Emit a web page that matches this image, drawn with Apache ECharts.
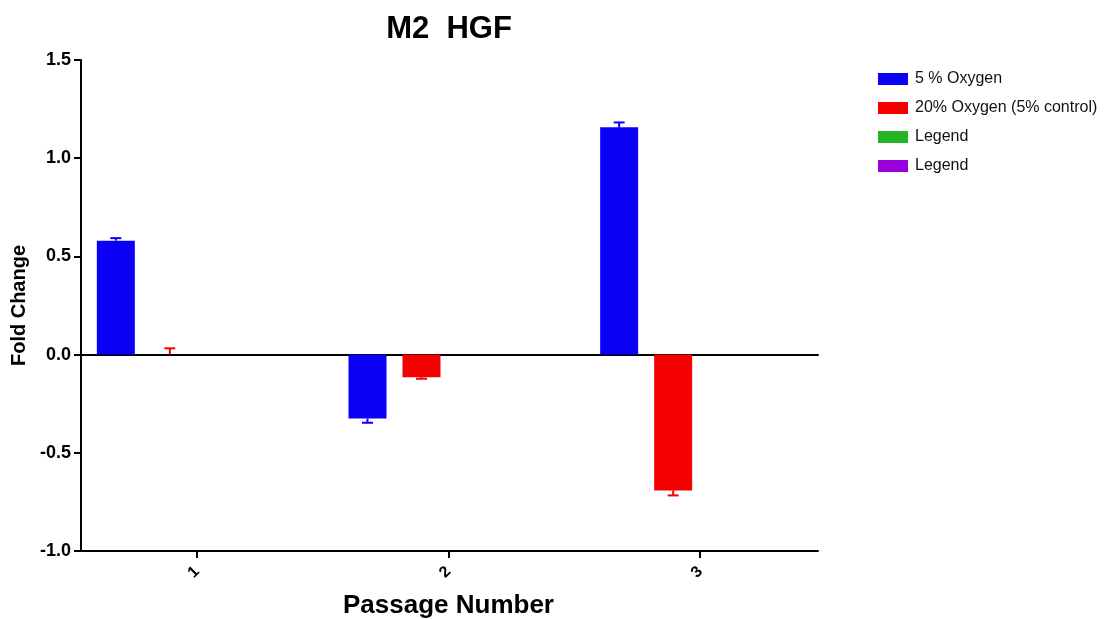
<!DOCTYPE html>
<html>
<head>
<meta charset="utf-8">
<script src="https://cdn.jsdelivr.net/npm/echarts@6/dist/echarts.min.js"></script>
<style>
html,body{margin:0;padding:0;background:#fff;}
#chart{width:1108px;height:619px;}
</style>
</head>
<body>
<div id="chart"></div>
<script>
const categories = ['1', '2', '3'];
const seriesNames = ['5 % Oxygen', '20% Oxygen (5% control)', 'Legend', 'Legend'];
const oxygen5 = [0.58, -0.325, 1.157];
const oxygen5Err = [0.013, 0.022, 0.025];
const oxygen20 = [0, -0.115, -0.692];
const oxygen20Err = [0.032, 0.008, 0.025];
const emptyA = [null, null, null];
const emptyB = [null, null, null];
const yTicks = { min: -1.0, max: 1.5, interval: 0.5 };

const colors = ['#0a00f6', '#f40000', '#25b425', '#9a00dc'];
const FONT = '"Liberation Sans", Arial, Helvetica, sans-serif';
const BAR_W = 38, BAR_GAP_PX = 16;

function errData(vals, errs) {
  return vals.map((v, i) => [i, v, errs[i]]);
}
function errSeries(slot, vals, errs, color) {
  return {
    type: 'custom', xAxisIndex: 0, yAxisIndex: 0, z: 5, silent: true,
    data: errData(vals, errs),
    encode: { x: 0, y: 1 },
    renderItem: function (params, api) {
      const ci = api.value(0), v = api.value(1), e = api.value(2);
      const off = (slot - 1.5) * (BAR_W + BAR_GAP_PX);
      const sign = v >= 0 ? 1 : -1;
      const p0 = api.coord([ci, v]);
      const p1 = api.coord([ci, v + sign * e]);
      const x = p0[0] + off;
      const cap = 5.5;
      const st = { stroke: color, lineWidth: 2 };
      return { type: 'group', children: [
        { type: 'line', shape: { x1: x, y1: p0[1], x2: x, y2: p1[1] }, style: st },
        { type: 'line', shape: { x1: x - cap, y1: p1[1], x2: x + cap, y2: p1[1] }, style: st }
      ]};
    }
  };
}

const chart = echarts.init(document.getElementById('chart'));
const option = {
  animation: false,
  backgroundColor: '#ffffff',
  color: colors,
  title: {
    text: 'M2  HGF', left: 444, top: 9, textAlign: 'center',
    textStyle: { fontFamily: FONT, fontWeight: 'bold', fontSize: 31, color: '#000' }
  },
  legend: {
    orient: 'vertical', left: 873, top: 66,
    itemWidth: 30, itemHeight: 12, itemGap: 13, icon: 'rect',
    textStyle: { fontFamily: FONT, fontSize: 16, color: '#111', padding: [0, 0, 0, 2] },
    data: [
      { name: seriesNames[0] }, { name: seriesNames[1] },
      { name: 'LegendA' }, { name: 'LegendB' }
    ],
    formatter: function (n) { return n === 'LegendA' || n === 'LegendB' ? 'Legend' : n; },
    selectedMode: false
  },
  grid: [
    { left: 71, right: 282, top: 60, bottom: 68, containLabel: false, outerBoundsMode: 'none' },
    { left: 81, right: 290, top: 60, bottom: 68, containLabel: false, outerBoundsMode: 'none' }
  ],
  xAxis: [
    {
      type: 'category', gridIndex: 0, data: categories, position: 'bottom',
      axisLine: { show: false, onZero: false },
      axisTick: { show: true, alignWithLabel: true, length: 7, lineStyle: { color: '#000', width: 2 } },
      axisLabel: { rotate: 45, margin: 18, fontFamily: FONT, fontSize: 16, fontWeight: 'bold', color: '#000' },
      name: 'Passage Number', nameLocation: 'middle', nameGap: 42,
      nameTextStyle: { fontFamily: FONT, fontWeight: 'bold', fontSize: 26, color: '#000' }
    },
    {
      type: 'value', gridIndex: 1, min: 0, max: 1, position: 'bottom',
      axisLine: { show: true, onZero: false, lineStyle: { color: '#000', width: 2 } },
      axisTick: { show: false }, axisLabel: { show: false }, splitLine: { show: false }
    },
    {
      type: 'value', gridIndex: 1, min: 0, max: 1, position: 'top',
      axisLine: { show: true, onZero: true, onZeroAxisIndex: 1, lineStyle: { color: '#000', width: 2 } },
      axisTick: { show: false }, axisLabel: { show: false }, splitLine: { show: false }
    }
  ],
  yAxis: [
    {
      type: 'value', gridIndex: 0, min: yTicks.min, max: yTicks.max, interval: yTicks.interval,
      show: false
    },
    {
      type: 'value', gridIndex: 1, min: yTicks.min, max: yTicks.max, interval: yTicks.interval,
      axisLine: { show: true, onZero: false, lineStyle: { color: '#000', width: 2 } },
      axisTick: { show: true, length: 7, lineStyle: { color: '#000', width: 2 } },
      axisLabel: { margin: 10, fontFamily: FONT, fontSize: 18, fontWeight: 'bold', color: '#000',
        formatter: v => v.toFixed(1) },
      splitLine: { show: false },
      name: 'Fold Change', nameLocation: 'middle', nameGap: 51,
      nameTextStyle: { fontFamily: FONT, fontWeight: 'bold', fontSize: 20, color: '#000' }
    }
  ],
  series: [
    { name: seriesNames[0], type: 'bar', xAxisIndex: 0, yAxisIndex: 0, data: oxygen5,
      barWidth: BAR_W, barGap: (BAR_GAP_PX / BAR_W * 100).toFixed(1) + '%', itemStyle: { color: colors[0] } },
    { name: seriesNames[1], type: 'bar', xAxisIndex: 0, yAxisIndex: 0, data: oxygen20,
      barWidth: BAR_W, itemStyle: { color: colors[1] } },
    { name: 'LegendA', type: 'bar', xAxisIndex: 0, yAxisIndex: 0, data: emptyA,
      barWidth: BAR_W, itemStyle: { color: colors[2] } },
    { name: 'LegendB', type: 'bar', xAxisIndex: 0, yAxisIndex: 0, data: emptyB,
      barWidth: BAR_W, itemStyle: { color: colors[3] } },
    errSeries(0, oxygen5, oxygen5Err, colors[0]),
    errSeries(1, oxygen20, oxygen20Err, colors[1])
  ]
};
chart.setOption(option);
</script>
</body>
</html>
